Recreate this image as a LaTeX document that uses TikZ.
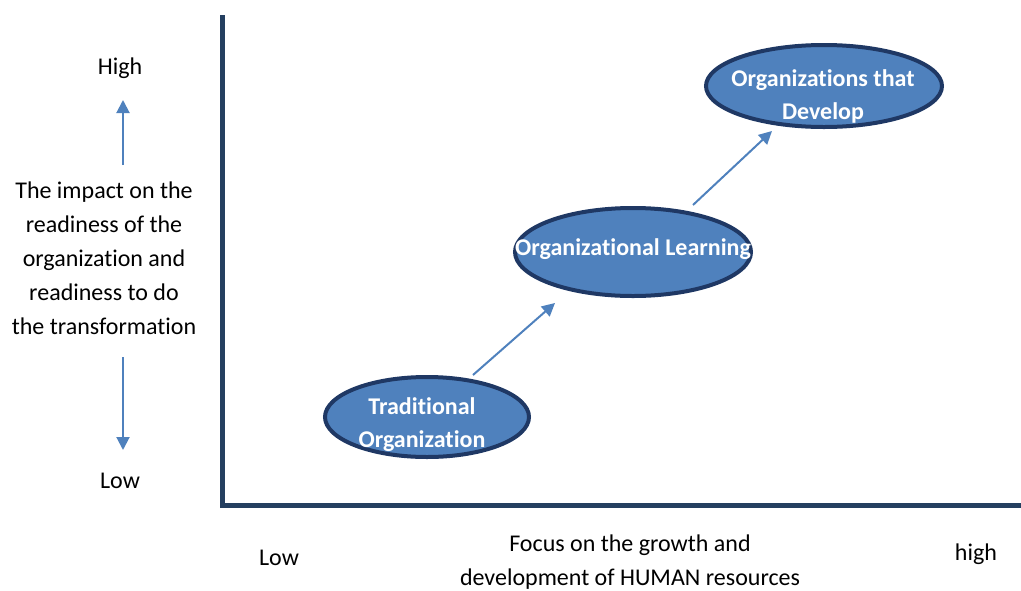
\documentclass[tikz,border=0pt]{standalone}
\usepackage{fontspec}
\setmainfont{Carlito}[Ligatures=NoCommon]
\usetikzlibrary{shapes.geometric,arrows.meta}
\definecolor{navy}{HTML}{243F60}
\definecolor{blu}{HTML}{4F81BD}
\definecolor{edge}{HTML}{1F3864}
\tikzset{
  oval/.style={ellipse, fill=blu, draw=edge, line width=4pt, inner sep=0pt},
  ovaltext/.style={text=white, font=\fontsize{24}{33}\selectfont\bfseries, align=center, inner sep=0pt},
  lbl/.style={font=\fontsize{24}{34}\selectfont, align=center, inner sep=0pt},
  link/.style={draw=blu, line width=2pt, -{Triangle[length=13pt,width=13pt]}},
  axis/.style={draw=navy, line width=5pt}
}
\begin{document}
\begin{tikzpicture}[x=1pt,y=-1pt]
\useasboundingbox (0,0) rectangle (1021,590);
% axes
\coordinate (top) at (222,15);
\coordinate (origin) at (222,505);
\coordinate (right) at (1021,505);
\draw[axis, line cap=butt] (top) -- (origin) -- (right);
% ellipses
\node[oval, minimum width=204pt, minimum height=80pt] (e1) at (427,417) {};
\node[oval, minimum width=236pt, minimum height=88pt] (e2) at (633,252) {};
\node[oval, minimum width=236pt, minimum height=82pt] (e3) at (824,86) {};
\node[ovaltext] (t1) at (422,425) {Traditional\\Organization};
\node[ovaltext] (t2) at (633,249) {Organizational Learning};
\node[ovaltext] (t3) at (823,96) {Organizations that\\Develop};
% connectors
\coordinate (a1s) at (473,375);
\coordinate (a1e) at (555,303);
\coordinate (a2s) at (693,205);
\coordinate (a2e) at (772,131);
\draw[link] (a1s) -- (a1e);
\draw[link] (a2s) -- (a2e);
% left axis labels
\node[lbl] (high) at (120,68) {High};
\node[lbl] (low) at (120,481) {Low};
\node[lbl] (impact) at (104,258) {The impact on the\\readiness of the\\organization and\\readiness to do\\the transformation};
\coordinate (upS) at (123,165);
\coordinate (upE) at (123,100);
\coordinate (dnS) at (123,357);
\coordinate (dnE) at (123,450);
\draw[link] (upS) -- (upE);
\draw[link] (dnS) -- (dnE);
% bottom labels
\node[lbl] (blow) at (279,558) {Low};
\node[lbl] (focus) at (630,562) {Focus on the growth and\\development of HUMAN resources};
\node[lbl] (bhigh) at (976,554) {high};
\end{tikzpicture}
\end{document}
